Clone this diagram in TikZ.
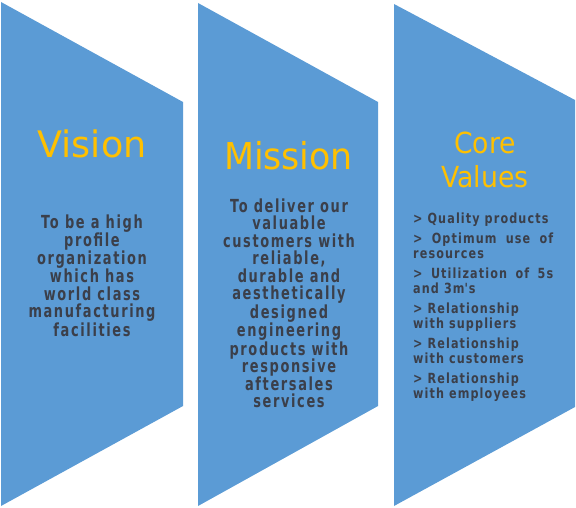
\documentclass[tikz,border=0pt]{standalone}
\usepackage{fontspec}
\setmainfont{DejaVu Sans}
\newfontfamily\bodyfont[FakeStretch=0.72,LetterSpace=9]{DejaVu Sans}
\newfontfamily\listfont[FakeStretch=0.8,LetterSpace=8]{DejaVu Sans}
\definecolor{panelblue}{HTML}{5B9BD5}
\definecolor{titlegold}{HTML}{FFC000}
\definecolor{bodygray}{HTML}{3B3F4A}

\begin{document}
\begin{tikzpicture}[x=1pt,y=-1pt,
  panel/.style={fill=panelblue},
  heading/.style={text=titlegold, inner sep=0pt, anchor=base, align=center},
  body/.style={text=bodygray, inner sep=0pt, anchor=north, align=center,
    font=\bodyfont\bfseries\fontsize{18}{17.5}\selectfont},
  valuelist/.style={text=bodygray, inner sep=0pt, anchor=north west, text width=140pt,
    align=justify, font=\listfont\bfseries\fontsize{14}{15}\selectfont}]
  \useasboundingbox (0,0) rectangle (576,508);
  % the three panels
  \fill[panel] (1,2) -- (183,102) -- (183,406) -- (1,506) -- cycle;
  \fill[panel] (198,3) -- (378,102) -- (378,406) -- (198,506) -- cycle;
  \fill[panel] (394,4) -- (575,100) -- (575,407) -- (394,506) -- cycle;
  % titles
  \node (vision) [heading, font=\fontsize{36.5}{40}\selectfont] at (92,158) {Vision};
  \node (mission) [heading, font=\fontsize{37}{40}\selectfont\addfontfeatures{FakeStretch=0.94}] at (288.5,170) {Mission};
  \node (core) [heading, font=\fontsize{29}{34}\selectfont\addfontfeatures{FakeStretch=0.92}] at (485,188) {Core\\Values};
  % texts
  \node (visiontext) [body] at (92,214.3) {To be a high\\profile\\organization\\which has\\world class\\manufacturing\\facilities};
  \node (missiontext) [body] at (289,198.3) {To deliver our\\valuable\\customers with\\reliable,\\durable and\\aesthetically\\designed\\engineering\\products with\\responsive\\aftersales\\services};
  \node (coretext) [valuelist] at (413,212.4) {%
    > Quality products\par\vspace{5pt}
    > Optimum use of\linebreak resources\par\vspace{5pt}
    > Utilization of 5s\linebreak and 3m\textquotesingle s\par\vspace{5pt}
    > Relationship\newline with suppliers\par\vspace{5pt}
    > Relationship\newline with customers\par\vspace{5pt}
    > Relationship\newline with employees};
\end{tikzpicture}
\end{document}
